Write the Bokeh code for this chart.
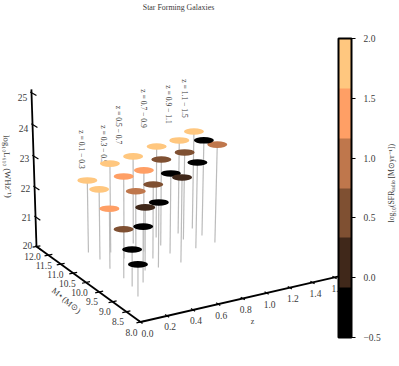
import numpy as np
from bokeh.plotting import figure
from bokeh.models import ColumnDataSource, Range1d, LinearColorMapper, ColorBar, FixedTicker
from bokeh.core.properties import value
from bokeh.transform import transform
from bokeh.embed import file_html
from bokeh.resources import INLINE

# data: redshift, stellar mass, log luminosity, log SFR
redshift = [0.27,0.28,0.41,0.44,0.64,0.63,0.59,0.85,0.80,0.62,0.78,0.76,1.04,1.01,1.19,1.18,1.19,1.00,0.26,0.46,0.57,0.34,0.26,0.24,0.19]
mass = [11.28,10.87,11.09,10.71,11.31,10.85,10.97,11.39,10.98,10.45,10.53,10.03,11.39,11.05,11.50,11.08,10.63,10.53,10.38,10.00,10.01,9.51,9.85,9.44,8.99]
lum = [22.41,22.33,22.97,22.73,22.96,22.74,22.01,23.13,22.93,22.49,22.71,22.85,23.23,23.01,23.40,23.31,23.38,22.94,21.98,22.09,22.17,21.83,21.61,21.21,21.04]
sfr = [1.8,1.8,1.8,1.4,1.8,1.4,1.0,1.8,0.55,0.55,-0.3,0.1,1.8,0.55,1.8,-0.3,1.0,-0.3,1.4,0.1,-0.3,-0.3,0.55,-0.3,-0.3]
palette = ["#000000","#40281a","#7f5032","#bf774c","#ff9f65","#ffc77f"]
z_ticks = [0.0,0.2,0.4,0.6,0.8,1.0,1.2,1.4,1.6]
m_ticks = [8.0,8.5,9.0,9.5,10.0,10.5,11.0,11.5,12.0]
l_ticks = [20,21,22,23,24,25]
cb_ticks = [-0.5,0.0,0.5,1.0,1.5,2.0]
bins = ["z = 0.1 − 0.3","z = 0.3 − 0.5","z = 0.5 − 0.7","z = 0.7 − 0.9","z = 0.9 − 1.1","z = 1.1 − 1.5"]

FONT = value("Liberation Serif")
TXT = "#3a3a3a"

def project(z, m, l):
    """Perspective camera: data coordinates to page pixels."""
    z, m, l = np.asarray(z, float), np.asarray(m, float), np.asarray(l, float)
    v, t, h = z/1.4, (m-8)/4, (l-20)/5
    w = 1 + .1*t + .1*v - .0514*h
    x = (140 - 100.4*t + 203.2*v - 7.09*h)/w
    y = (321.5 - 50.9*t - 11.3*v - 174*h)/w
    return x, y

p = figure(width=399, height=366, toolbar_location=None, output_backend="svg",
           x_range=Range1d(0,399), y_range=Range1d(366,0), x_axis_type=None, y_axis_type=None,
           min_border=0, outline_line_color=None, background_fill_color="white",
           styles={"position":"absolute","left":"0px","top":"0px"})
p.grid.visible = False

def label(x, y, s, size=9.5, angle=0, align="center"):
    p.text(x=[x], y=[y], text=[s], text_font=FONT, text_font_size=f"{size}px", text_color=TXT,
           text_align=align, text_baseline="middle", angle=angle)

# bin labels (behind the marks)
for s, (bx, by) in zip(bins, [(81,149),(103,144),(118,124.5),(143,108),(168,104),(184,98)]):
    label(bx, by, s, size=7.6, angle=-np.pi/2)

# stems and markers
order = np.argsort(-np.array(redshift), kind="stable")
zz, mm, ll, ss = [np.array(a)[order] for a in (redshift, mass, lum, sfr)]
x1, y1 = project(zz, mm, ll)
x0, y0 = project(zz, mm, 20*np.ones_like(zz))
src = ColumnDataSource(dict(x0=x0, y0=y0, x1=x1, y1=y1, sfr=ss))
p.segment("x0","y0","x1","y1", source=src, line_color="#bcbcbc", line_width=1.2)
mapper = LinearColorMapper(palette=palette, low=-0.5, high=2.0)
p.ellipse("x1","y1", width=20, height=6.6, width_units="screen", height_units="screen", source=src,
          fill_color=transform("sfr", mapper), line_color=None)

# 3D axes
ax = dict(line_color="black", line_width=1.8)
xa, ya = project([0,0],[8,12],[20,20]); p.line(xa, ya, **ax)
xa, ya = project([0,1.66],[8,8],[20,20]); p.line(xa, ya, **ax)
xa, ya = project([0,0],[12,12],[20,25.1]); p.line(xa, ya, **ax)
tk = dict(line_color="black", line_width=1.2)
zt = np.array(z_ticks); mt = np.array(m_ticks); lt = np.array(l_ticks, float)
a = project(zt, 8-0.07*np.ones_like(zt), 20*np.ones_like(zt)); b = project(zt, 8+0.07*np.ones_like(zt), 20*np.ones_like(zt))
p.segment(a[0],a[1],b[0],b[1],**tk)
a = project(-0.03*np.ones_like(mt), mt, 20*np.ones_like(mt)); b = project(0.03*np.ones_like(mt), mt, 20*np.ones_like(mt))
p.segment(a[0],a[1],b[0],b[1],**tk)
a = project(0*lt, 12.05+0*lt, lt); b = project(0*lt, 11.8+0*lt, lt)
p.segment(a[0],a[1],b[0],b[1],**tk)

tx, ty = project(zt, 8+0*zt, 20+0*zt)
for v, x, y in zip(z_ticks, tx, ty):
    label(x + (7 if v == 0 else 3), y + 11, f"{v:.1f}")
tx, ty = project(0*mt, mt, 20+0*mt)
for v, x, y in zip(m_ticks, tx, ty):
    label(x - 4 - (12-v)*1.25, y + 10, f"{v:.1f}")
tx, ty = project(0*lt, 12+0*lt, lt)
for v, x, y in zip(l_ticks, tx, ty):
    label(x - 9, y - 1 + (v-20)*1.2, f"{v}")

label(7, 166, "log₁₀L₆₁₀ (WHz⁻¹)", size=8.6, angle=np.radians(-88))
label(66, 300, "M⋆(M⊙)", size=8.5, angle=np.radians(-40))
label(252, 321, "z", size=8)
label(178, 7, "Star Forming Galaxies", size=7.9)

# colour bar
cb = ColorBar(color_mapper=mapper, location=(338, 29), width=13, height=299, padding=0, margin=0,
              ticker=FixedTicker(ticks=cb_ticks),
              major_label_overrides={t: f"{t:.1f}".replace("-", "−") for t in cb_ticks},
              major_label_text_font="Liberation Serif", major_label_text_font_size="9.5px",
              major_label_text_color=TXT, major_tick_in=0, major_tick_out=4,
              major_tick_line_color="black", major_tick_line_width=1.2, minor_tick_line_color=None,
              bar_line_color="black", bar_line_width=2, background_fill_alpha=0, border_line_color=None,
              label_standoff=8)
p.add_layout(cb)
label(391, 222, "log₁₀(SFR", size=7.8, angle=np.pi/2, align="left")
label(392.5, 191, "radio", size=5.4, angle=np.pi/2, align="left")
label(391, 178, "[M⊙yr⁻¹])", size=7.8, angle=np.pi/2, align="left")

open("out.html", "w").write(file_html(p, INLINE))
